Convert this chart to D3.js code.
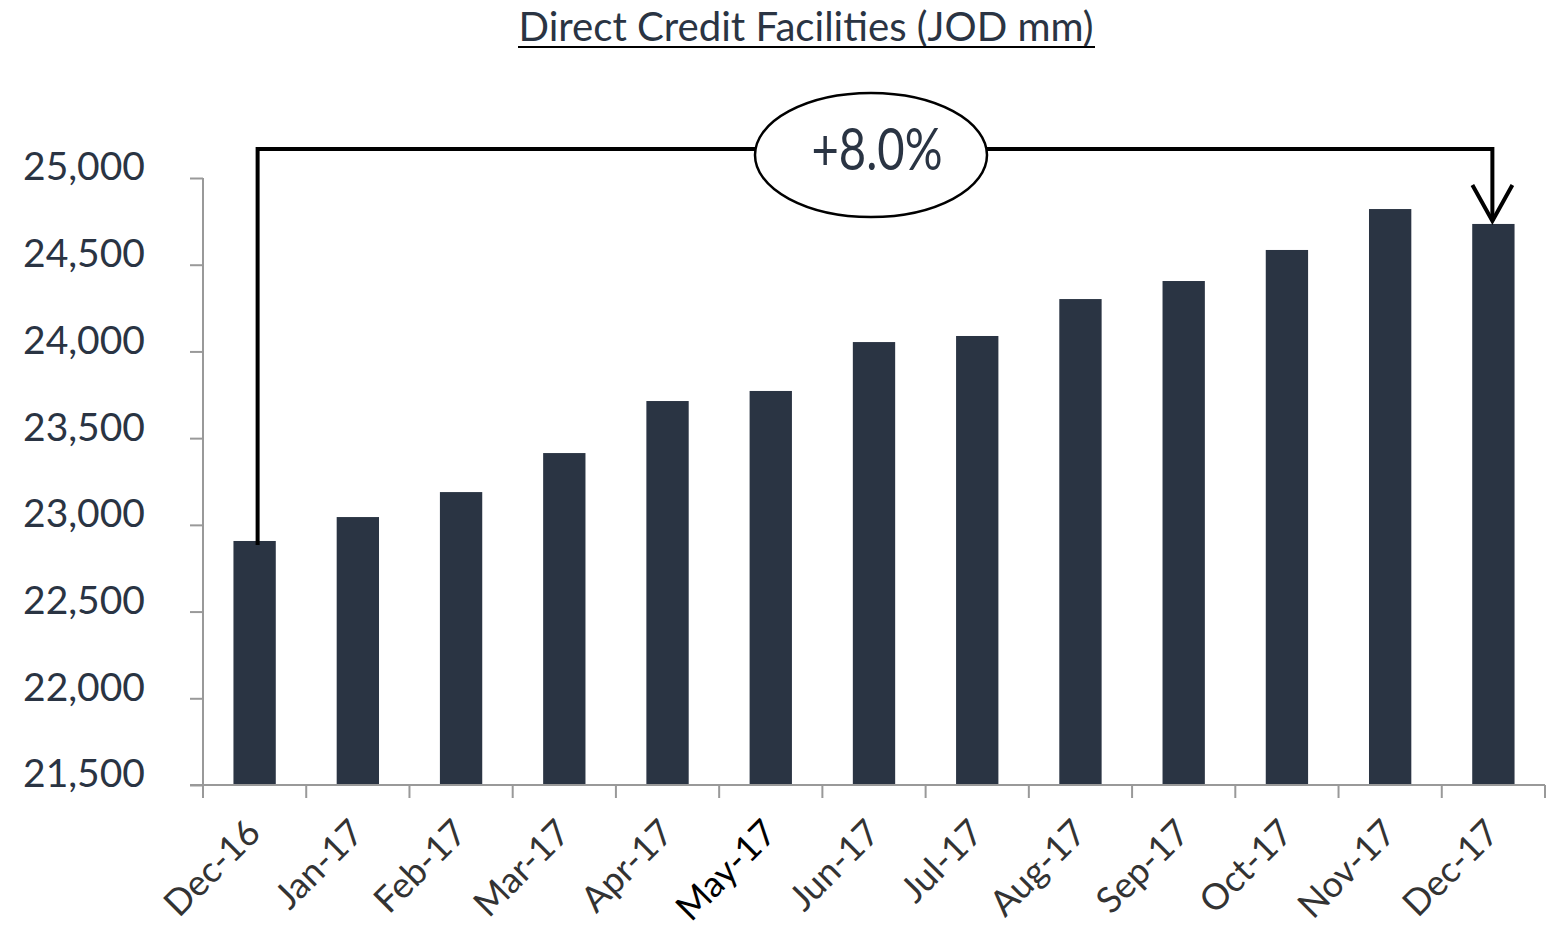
<!DOCTYPE html>
<html>
<head>
<meta charset="utf-8">
<script src="https://cdn.jsdelivr.net/npm/d3@7"></script>
<style>
  html, body { margin: 0; padding: 0; background: #fff; }
  svg { display: block; }
</style>
</head>
<body>
<svg id="chart" width="1562" height="936"></svg>
<script>
// Monthly direct credit facilities, JOD millions
const months = ["Dec-16", "Jan-17", "Feb-17", "Mar-17", "Apr-17", "May-17", "Jun-17",
                "Jul-17", "Aug-17", "Sep-17", "Oct-17", "Nov-17", "Dec-17"];
const credit = [22907, 23045, 23189, 23414, 23714, 23772, 24054,
                24089, 24302, 24406, 24585, 24821, 24735];
const yTicks = [21500, 22000, 22500, 23000, 23500, 24000, 24500, 25000];
const titleText = "Direct Credit Facilities (JOD mm)";
const growthLabel = "+8.0%";

const svg = d3.select("#chart");
const navy = "#2a3443";
const axisGrey = "#999999";

const x = d3.scaleBand().domain(months).range([203, 1545]).paddingInner(0.59).paddingOuter(0.295);
const y = d3.scaleLinear().domain([21500, 25000]).range([785, 178]);

// Title with underline
svg.append("text")
  .attr("x", 806).attr("y", 41)
  .attr("text-anchor", "middle")
  .attr("font-family", "Lato, sans-serif")
  .attr("font-size", 41)
  .attr("fill", navy)
  .attr("textLength", 575)
  .attr("lengthAdjust", "spacingAndGlyphs")
  .text(titleText);
svg.append("line")
  .attr("x1", 518).attr("x2", 1095)
  .attr("y1", 47).attr("y2", 47)
  .attr("stroke", "#000").attr("stroke-width", 2);

// Bars
svg.append("g").selectAll("rect")
  .data(months)
  .join("rect")
  .attr("x", d => x(d))
  .attr("width", x.bandwidth())
  .attr("y", (d, i) => y(credit[i]))
  .attr("height", (d, i) => y(21500) - y(credit[i]))
  .attr("fill", navy);

// Y axis
const yAxis = svg.append("g")
  .attr("transform", "translate(203,0)")
  .call(d3.axisLeft(y).tickValues(yTicks).tickSize(13).tickFormat(d3.format(",")));
yAxis.select(".domain").attr("stroke", axisGrey).attr("stroke-width", 2)
  .attr("d", "M0,178V798");
yAxis.selectAll(".tick line").attr("stroke", axisGrey).attr("stroke-width", 2);
yAxis.selectAll(".tick text")
  .attr("x", -58)
  .attr("dy", "0.05em")
  .attr("font-family", "Lato, sans-serif")
  .attr("font-size", 39)
  .attr("fill", navy);

// X axis with ticks between categories
const bandStep = x.step();
const xAxis = svg.append("g").attr("transform", "translate(0,785)");
xAxis.append("line")
  .attr("x1", 190).attr("x2", 1545)
  .attr("stroke", axisGrey).attr("stroke-width", 2);
xAxis.selectAll("line.sep")
  .data(d3.range(months.length + 1))
  .join("line")
  .attr("class", "sep")
  .attr("x1", i => 203 + i * bandStep).attr("x2", i => 203 + i * bandStep)
  .attr("y1", 0).attr("y2", 13)
  .attr("stroke", axisGrey).attr("stroke-width", 2);
xAxis.selectAll("text")
  .data(months)
  .join("text")
  .attr("transform", d => `translate(${x(d) + x.bandwidth() / 2 + 8},${50}) rotate(-45)`)
  .attr("text-anchor", "end")
  .attr("font-family", "Lato, sans-serif")
  .attr("font-size", 36)
  .attr("fill", d => d === "May-17" ? "#000" : "#333")
  .text(d => d);

// Growth bracket from first to last month
const first = months[0], last = months[months.length - 1];
const xs = x(first) + x.bandwidth() / 2 + 3;
const xe = x(last) + x.bandwidth() / 2 - 1;
const topY = 149;
svg.append("path")
  .attr("d", `M${xs},${y(credit[0]) + 4}V${topY}H${xe}V${y(credit[credit.length - 1]) - 3}`)
  .attr("fill", "none").attr("stroke", "#000").attr("stroke-width", 4);
svg.append("path")
  .attr("d", `M${xe - 20},${185}L${xe},${y(credit[credit.length - 1]) - 3}L${xe + 20},${185}`)
  .attr("fill", "none").attr("stroke", "#000").attr("stroke-width", 4);

// Growth label in an ellipse
svg.append("ellipse")
  .attr("cx", 871).attr("cy", 155).attr("rx", 116).attr("ry", 62)
  .attr("fill", "#fff").attr("stroke", "#000").attr("stroke-width", 2.5);
svg.append("text")
  .attr("x", 877).attr("y", 170)
  .attr("text-anchor", "middle")
  .attr("font-family", "Lato, sans-serif")
  .attr("font-size", 58)
  .attr("fill", navy)
  .attr("textLength", 131)
  .attr("lengthAdjust", "spacingAndGlyphs")
  .text(growthLabel);
</script>
</body>
</html>
